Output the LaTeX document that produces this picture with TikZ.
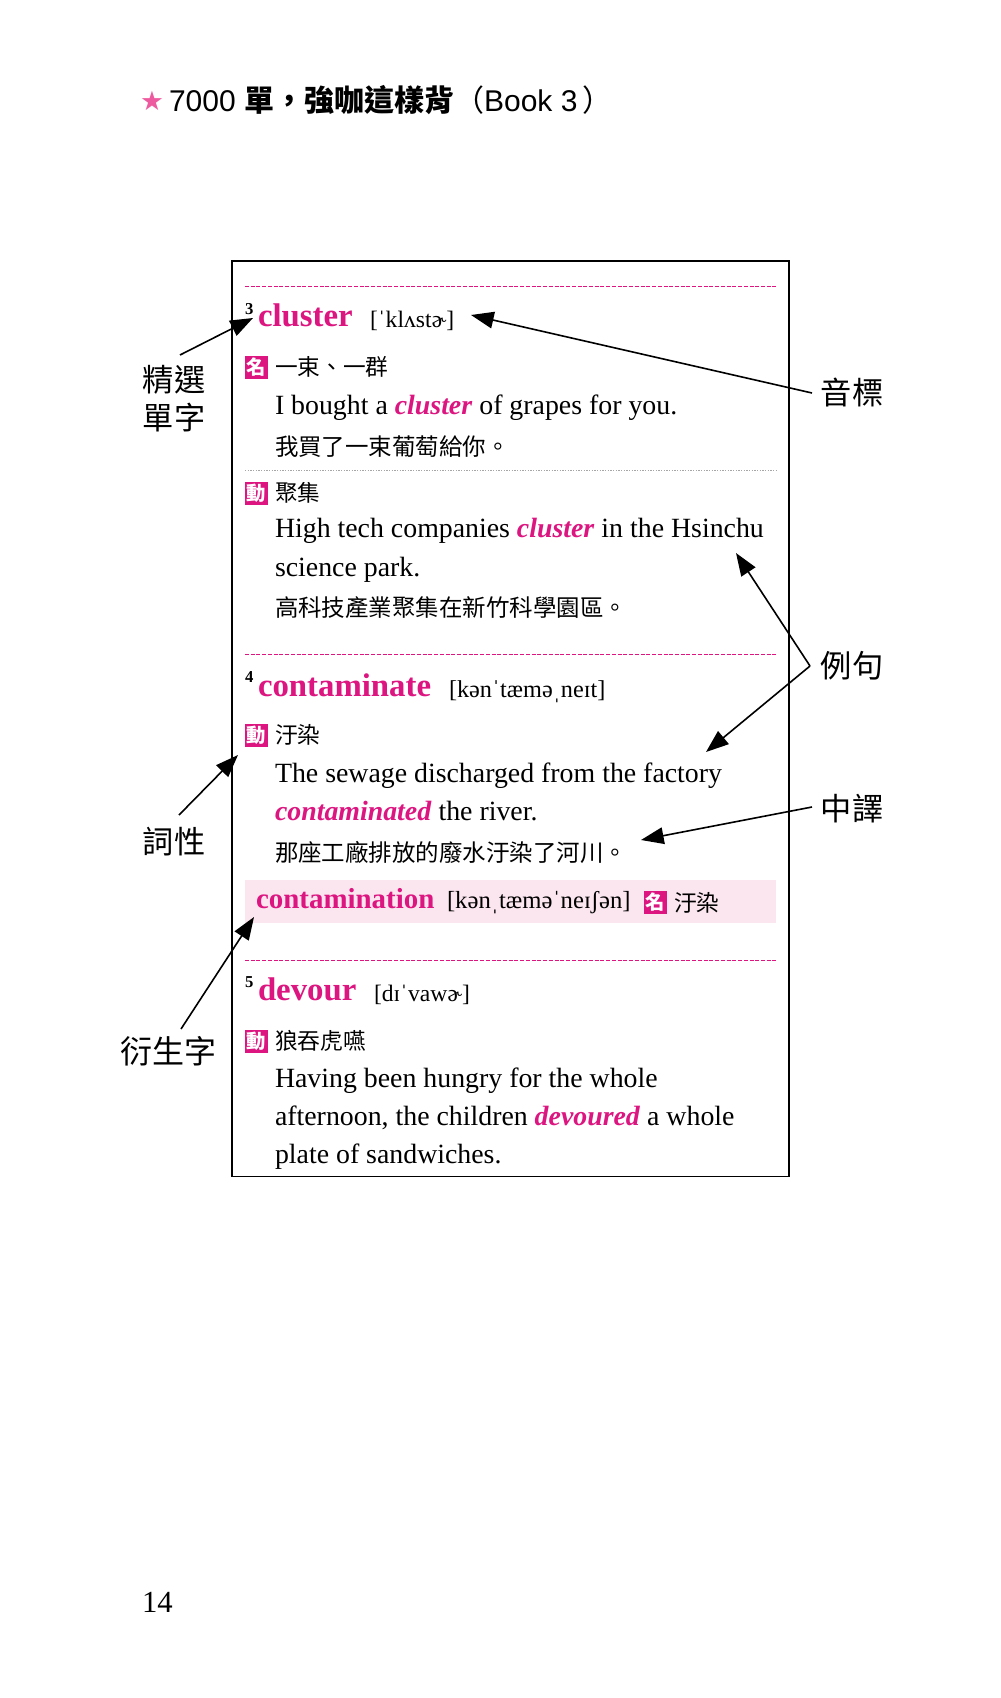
\documentclass[tikz,border=0pt]{standalone}
\usepackage{fontspec}
\usetikzlibrary{arrows.meta}
\setmainfont{Liberation Serif}
\newfontfamily\cjk{Noto Sans CJK TC}
\newfontfamily\hds{Liberation Sans}
\newfontfamily\sym{DejaVu Sans}
\definecolor{mag}{HTML}{DC1580}
\definecolor{starpink}{HTML}{EE5A9F}
\definecolor{band}{HTML}{FBE6EF}
\newcommand{\fs}[1]{\fontsize{#1}{#1}\selectfont}
\newcommand{\hw}[1]{\textcolor{mag}{\textbf{\textit{#1}}}}
\tikzset{
  txt/.style={anchor=base west,inner sep=0pt,outer sep=0pt},
  word/.style={txt,font=\fs{24.6}\bfseries,text=mag},
  subword/.style={txt,font=\fs{21.7}\bfseries,text=mag},
  num/.style={txt,font=\fs{12.5}\bfseries},
  ipa/.style={txt,font=\fs{18.2}},
  ipashort/.style={txt,font=\fs{17.7}},
  ipalong/.style={txt,font=\fs{18.5}},
  body/.style={txt,font=\fs{20.88}},
  defn/.style={txt,font=\cjk\fs{17}},
  zh/.style={txt,font=\cjk\fs{17.6}},
  call/.style={anchor=center,inner sep=0pt,outer sep=0pt,font=\cjk\fs{23.4}},
  badge/.style={fill=mag,text=white,inner sep=0pt,outer sep=0pt,minimum width=17.2pt,minimum height=17.2pt,anchor=north west,font=\cjk\bfseries\fs{14.5}},
  rule/.style={mag,line width=0.7pt,dash pattern=on 3pt off 1.3pt},
  arr/.style={line width=1.2pt,-{Triangle[length=17pt,width=12.5pt]}}
}
\begin{document}
\begin{tikzpicture}[x=0.75pt,y=-0.75pt]
\fill[white] (0,0) rectangle (1000,1698);
\useasboundingbox (0,0) rectangle (1000,1698);

% header
\node[anchor=center,inner sep=0pt,font=\sym\fs{20},text=starpink] (star) at (152,101) {★};
\node[txt,font=\hds\fs{22.5}] (head) at (169,112) {7000 {\cjk\bfseries 單，強咖這樣背}{\cjk（}Book 3\hspace{4pt}{\cjk ）}};

% frame
\draw[line width=1.1pt] (232,261) rectangle (789,1176.5);
\draw[rule] (245,286) -- (776,286);
\draw[rule] (245,654) -- (776,654);
\draw[rule] (245,960) -- (776,960);
\draw[gray!70,line width=0.6pt,dash pattern=on 1pt off 1pt] (245,470) -- (776,470);
\fill[band] (245,880) rectangle (776,923);

% entry 3
\node[num] (n3) at (245,314) {3};
\node[word] (w3) at (258,326) {cluster};
\node[ipashort] (p3) at (370,327) {[ˈklʌstɚ]};
\node[badge] (b3a) at (245,356) {名};
\node[defn] (d3a) at (275,375) {一束、一群};
\node[body] (s3a) at (275,414) {I bought a \hw{cluster} of grapes for you.};
\node[zh] (z3a) at (275,455) {我買了一束葡萄給你。};
\node[badge] (b3b) at (245,482) {動};
\node[defn] (d3b) at (275,501) {聚集};
\node[body] (s3b) at (275,537) {High tech companies \hw{cluster} in the Hsinchu};
\node[body] (s3c) at (275,576) {science park.};
\node[zh] (z3b) at (275,616) {高科技產業聚集在新竹科學園區。};

% entry 4
\node[num] (n4) at (245,682) {4};
\node[word] (w4) at (258,696) {contaminate};
\node[ipa] (p4) at (449,697) {[kənˈtæməˌneɪt]};
\node[badge] (b4) at (245,724) {動};
\node[defn] (d4) at (275,743) {汙染};
\node[body] (s4a) at (275,782) {The sewage discharged from the factory};
\node[body] (s4b) at (275,820) {\hw{contaminated} the river.};
\node[zh] (z4) at (275,861) {那座工廠排放的廢水汙染了河川。};
\node[subword] (w4b) at (256,908) {contamination};
\node[ipalong] (p4b) at (447,908) {[kənˌtæməˈneɪʃən]};
\node[badge] (b4b) at (644,891) {名};
\node[defn] (d4b) at (674,911) {汙染};

% entry 5
\node[num] (n5) at (245,987) {5};
\node[word] (w5) at (258,1000) {devour};
\node[ipashort] (p5) at (374,1001) {[dɪˈvawɚ]};
\node[badge] (b5) at (245,1030) {動};
\node[defn] (d5) at (275,1049) {狼吞虎嚥};
\node[body] (s5a) at (275,1087) {Having been hungry for the whole};
\node[body] (s5b) at (275,1125) {afternoon, the children \hw{devoured} a whole};
\node[body] (s5c) at (275,1163) {plate of sandwiches.};

% callouts
\node[call] (c1) at (174,380) {精選};
\node[call] (c1b) at (174,418) {單字};
\node[call] (c2) at (852,393) {音標};
\node[call] (c3) at (852,666) {例句};
\node[call] (c4) at (852,809) {中譯};
\node[call] (c5) at (174,842) {詞性};
\node[call,font=\cjk\fs{24}] (c6) at (168,1051) {衍生字};
\node[txt,font=\fs{23}] (page) at (142,1612) {14};

% connector ends
\coordinate (a1s) at (180,355); \coordinate (a1e) at (253,318);
\coordinate (a2s) at (812,393); \coordinate (a2e) at (471,315);
\coordinate (a3m) at (810,666); \coordinate (a3a) at (736,553); \coordinate (a3b) at (706,752);
\coordinate (a4s) at (812,807); \coordinate (a4e) at (641,840);
\coordinate (a5s) at (179,815); \coordinate (a5e) at (238,755);
\coordinate (a6s) at (181,1029); \coordinate (a6e) at (254,917);

\draw[arr] (a1s) -- (a1e);
\draw[arr] (a2s) -- (a2e);
\draw[arr] (a3m) -- (a3a);
\draw[arr] (a3m) -- (a3b);
\draw[arr] (a4s) -- (a4e);
\draw[arr] (a5s) -- (a5e);
\draw[arr] (a6s) -- (a6e);
\end{tikzpicture}
\end{document}
